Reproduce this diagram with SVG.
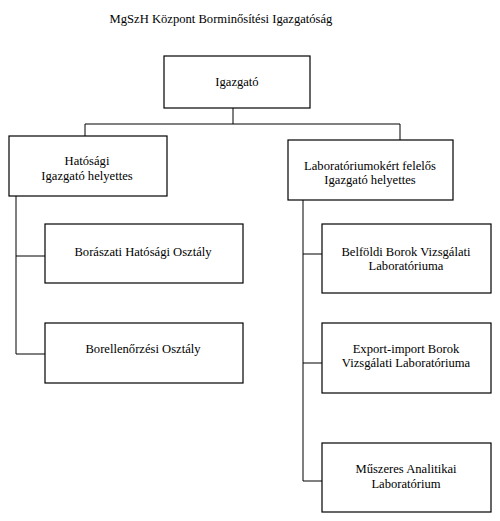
<svg xmlns="http://www.w3.org/2000/svg" width="500" height="521" viewBox="0 0 500 521">
<style>
.box{fill:#fff;stroke:#000;stroke-width:1.2}
.c{fill:none;stroke:#000;stroke-width:1}
.t{font-family:'Liberation Serif','DejaVu Serif',serif;font-size:12.6px;fill:#000;text-anchor:middle}
</style>
<rect width="500" height="521" fill="#fff"/>
<text class="t" x="221" y="23">MgSzH Központ Borminősítési Igazgatóság</text>
<g id="connectors">
<path class="c" d="M233 108V124M85 136V124H400V140"/>
<path class="c" d="M16 196V354H45M16 256H46"/>
<path class="c" d="M303 200V481H322M303 254H322M303 363H322"/>
</g>
<g id="igazgato"><rect class="box" x="164" y="56" width="146" height="52"/><text class="t" x="237" y="86">Igazgató</text></g>
<g id="hatosagi"><rect class="box" x="9" y="136" width="158" height="60"/><text class="t" x="87" y="165">Hatósági</text><text class="t" x="87" y="180">Igazgató helyettes</text></g>
<g id="labor"><rect class="box" x="288" y="140" width="165" height="60"/><text class="t" x="370" y="170">Laboratóriumokért felelős</text><text class="t" x="370" y="184">Igazgató helyettes</text></g>
<g id="boraszati"><rect class="box" x="45" y="224" width="198" height="59"/><text class="t" x="143" y="256">Borászati Hatósági Osztály</text></g>
<g id="borellenorzesi"><rect class="box" x="45" y="323" width="198" height="60"/><text class="t" x="143" y="353">Borellenőrzési Osztály</text></g>
<g id="belfoldi"><rect class="box" x="322" y="224" width="169" height="69"/><text class="t" x="406" y="256">Belföldi Borok Vizsgálati</text><text class="t" x="406" y="270">Laboratóriuma</text></g>
<g id="export"><rect class="box" x="322" y="323" width="169" height="70"/><text class="t" x="406" y="353">Export-import Borok</text><text class="t" x="406" y="367">Vizsgálati Laboratóriuma</text></g>
<g id="muszeres"><rect class="box" x="322" y="443" width="169" height="69"/><text class="t" x="406" y="473">Műszeres Analitikai</text><text class="t" x="406" y="488">Laboratórium</text></g>
</svg>
